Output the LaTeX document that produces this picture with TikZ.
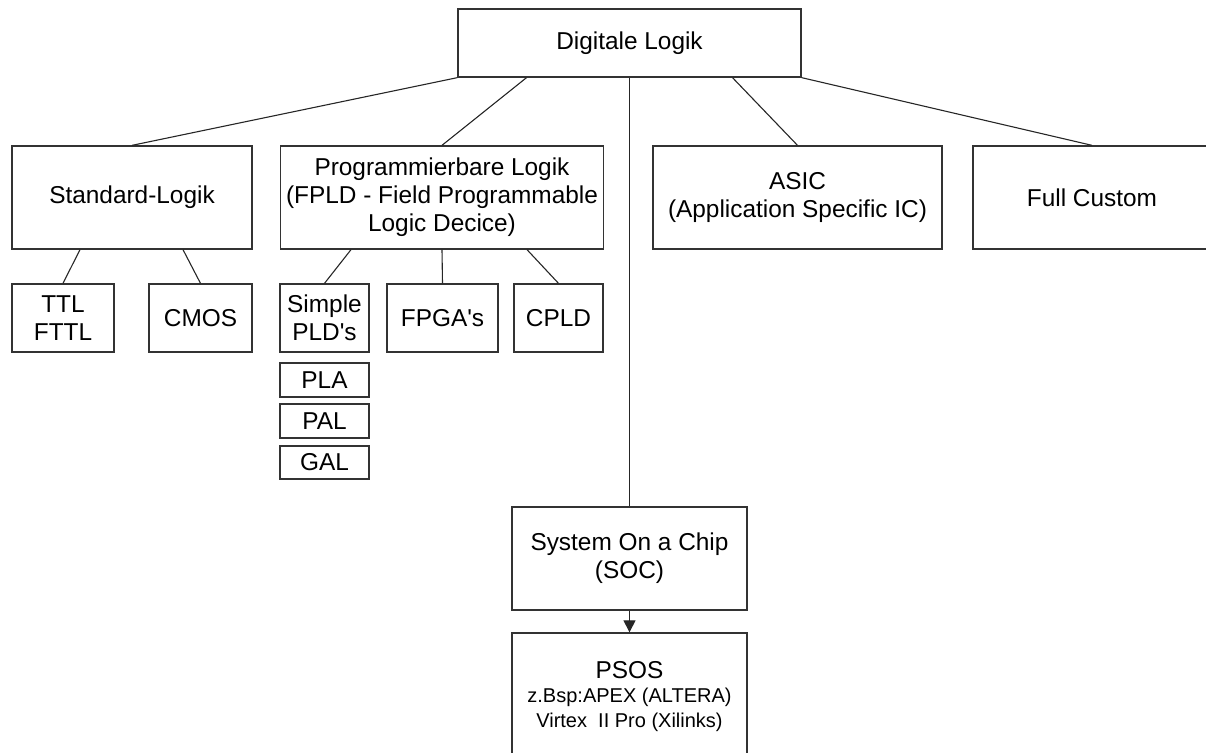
\documentclass[tikz,border=0pt]{standalone}
\usepackage{fontspec}
\setmainfont{Liberation Sans}
\usetikzlibrary{arrows.meta}
\begin{document}
\begin{tikzpicture}[x=0.5pt,y=-0.5pt,
  box/.style={draw=black!80, line width=0.65pt, align=center, inner sep=2pt,
    font=\fontsize{12.2}{14}\selectfont},
  label/.style={inner sep=0pt, anchor=base},
  link/.style={draw=black!85, line width=0.55pt},
  arrowlink/.style={link, -{Triangle[length=6pt,width=6pt]}}]

\useasboundingbox (0,0) rectangle (1206,753);

% top level
\node[box, minimum width=171.5pt, minimum height=34pt] (top) at (629.5,43) {Digitale Logik};

% second level
\node[box, minimum width=120pt, minimum height=51.5pt] (std) at (132,197.5) {Standard-Logik};
\node[box, minimum width=161.5pt, minimum height=51.5pt] (prog) at (442,197.5)
  {Programmierbare Logik\\(FPLD - Field Programmable\\Logic Decice)};
\node[box, minimum width=144.5pt, minimum height=51.5pt] (asic) at (797.5,197.5)
  {ASIC\\(Application Specific IC)};
\node[box, minimum width=119pt, minimum height=51.5pt] (full) at (1092,197.5) {Full Custom};

% standard logic families
\node[box, minimum width=51pt, minimum height=34pt] (ttl) at (63,318) {TTL\\FTTL};
\node[box, minimum width=51.5pt, minimum height=34pt] (cmos) at (200.5,318) {CMOS};

% programmable logic families
\node[box, minimum width=44.5pt, minimum height=34pt] (spld) at (324.5,318) {Simple\\PLD\textquotesingle s};
\node[box, minimum width=55.5pt, minimum height=34pt] (fpga) at (442.5,318) {FPGA\textquotesingle s};
\node[box, minimum width=44.5pt, minimum height=34pt] (cpld) at (558.5,318) {CPLD};

\node[box, minimum width=44.5pt, minimum height=17pt] (pla) at (324.5,380) {PLA};
\node[box, minimum width=44.5pt, minimum height=17pt] (pal) at (324.5,421) {PAL};
\node[box, minimum width=44.5pt, minimum height=16.5pt] (gal) at (324.5,462.5) {GAL};

% system on a chip
\node[box, minimum width=117.5pt, minimum height=51.5pt] (soc) at (629.5,558.5)
  {System On a Chip\\(SOC)};
\node[box, minimum width=117.5pt, minimum height=64pt] (psos) at (629.5,697) {};
\node[label, font=\fontsize{12.2}{14}\selectfont] (psosname) at (629.5,679) {PSOS};
\node[label, font=\fontsize{10}{11.5}\selectfont] (psosex1) at (629.5,703) {z.Bsp:APEX (ALTERA)};
\node[label, font=\fontsize{10}{11.5}\selectfont] (psosex2) at (629.5,727) {Virtex\ \ II Pro (Xilinks)};

% connectors
\draw[link] (top.south west) -- (std.north);
\draw[link] ([xshift=-51.5pt]top.south) -- (prog.north);
\draw[link] (top.south) -- (soc.north);
\draw[link] ([xshift=51.5pt]top.south) -- (asic.north);
\draw[link] (top.south east) -- (full.north);

\draw[link] ([xshift=-26pt]std.south) -- (ttl.north);
\draw[link] ([xshift=25.5pt]std.south) -- (cmos.north);

\draw[link] ([xshift=-45.5pt]prog.south) -- (spld.north);
\draw[link] (prog.south) -- (fpga.north);
\draw[link] ([xshift=42.5pt]prog.south) -- (cpld.north);

\draw[arrowlink] (soc.south) -- (psos.north);
\end{tikzpicture}
\end{document}
